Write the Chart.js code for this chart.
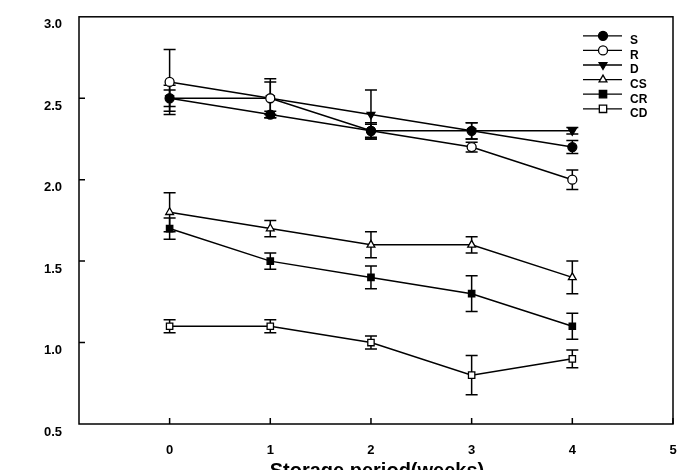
<!DOCTYPE html>
<html><head><meta charset="utf-8">
<script src="https://cdn.jsdelivr.net/npm/chart.js@4/dist/chart.umd.min.js"></script>
<style>html,body{margin:0;padding:0;background:#fff}#wrap{width:690px;height:470px}</style>
</head><body><div id="wrap"><canvas id="c" width="690" height="470"></canvas></div>
<script>
const weeks = [0, 1, 2, 3, 4];
const xTicks = [0, 1, 2, 3, 4, 5];
const yTicks = [0.5, 1.0, 1.5, 2.0, 2.5, 3.0];
const xTitle = 'Storage period(weeks)';

const S     = [2.5, 2.4, 2.3, 2.3, 2.2];
const S_err = [0.05, 0.02, 0.05, 0.05, 0.04];
const R     = [2.6, 2.5, 2.3, 2.2, 2.0];
const R_err = [0.2, 0.1, 0.04, 0.03, 0.06];
const D     = [2.5, 2.5, 2.4, 2.3, 2.3];
const D_err = [0.08, 0.12, 0.15, 0.05, 0.02];
const CS     = [1.8, 1.7, 1.6, 1.6, 1.4];
const CS_err = [0.12, 0.05, 0.08, 0.05, 0.1];
const CR     = [1.7, 1.5, 1.4, 1.3, 1.1];
const CR_err = [0.065, 0.05, 0.07, 0.11, 0.08];
const CD     = [1.1, 1.1, 1.0, 0.8, 0.9];
const CD_err = [0.04, 0.04, 0.04, 0.12, 0.055];

const FONT = '"Liberation Sans", Arial, sans-serif';

const series = [
  {label:'S',  data:S,  err:S_err,  style:'circle',   fill:'#000', rot:0},
  {label:'R',  data:R,  err:R_err,  style:'circle',   fill:'#fff', rot:0},
  {label:'D',  data:D,  err:D_err,  style:'triangle', fill:'#000', rot:180},
  {label:'CS', data:CS, err:CS_err, style:'triangle', fill:'#fff', rot:0},
  {label:'CR', data:CR, err:CR_err, style:'rect',     fill:'#000', rot:0},
  {label:'CD', data:CD, err:CD_err, style:'rect',     fill:'#fff', rot:0}
];

const datasets = series.map(s => ({
  label: s.label,
  data: weeks.map((w, i) => ({x: w, y: s.data[i]})),
  errors: s.err,
  borderColor: '#000',
  borderWidth: 1.5,
  backgroundColor: s.fill,
  pointStyle: s.style,
  pointRotation: s.rot,
  pointRadius: 4.5,
  pointBackgroundColor: s.fill,
  pointBorderColor: '#000',
  pointBorderWidth: 1.3,
  tension: 0,
  fill: false
}));

const errorBars = {
  id: 'errorBars',
  beforeDatasetsDraw(chart) {
    const {ctx, scales:{x, y}} = chart;
    ctx.save();
    ctx.strokeStyle = '#000';
    ctx.lineWidth = 1.5;
    chart.data.datasets.forEach((ds) => {
      ds.data.forEach((p, j) => {
        const e = ds.errors[j];
        const px = x.getPixelForValue(p.x);
        const yt = y.getPixelForValue(p.y + e);
        const yb = y.getPixelForValue(p.y - e);
        ctx.beginPath();
        ctx.moveTo(px, yt); ctx.lineTo(px, yb);
        ctx.moveTo(px - 6, yt); ctx.lineTo(px + 6, yt);
        ctx.moveTo(px - 6, yb); ctx.lineTo(px + 6, yb);
        ctx.stroke();
      });
    });
    ctx.restore();
  }
};

function drawMarker(ctx, style, fill, rot, cx, cy, r) {
  ctx.save();
  ctx.fillStyle = fill; ctx.strokeStyle = '#000'; ctx.lineWidth = 1.3;
  ctx.beginPath();
  if (style === 'circle') {
    ctx.arc(cx, cy, r, 0, Math.PI * 2);
  } else if (style === 'rect') {
    ctx.rect(cx - r * 0.707 - 0.5, cy - r * 0.707 - 0.5, r * 1.414 + 1, r * 1.414 + 1);
  } else {
    const a = rot * Math.PI / 180;
    for (let k = 0; k < 3; k++) {
      const t = a - Math.PI / 2 + k * 2 * Math.PI / 3;
      const px = cx + r * Math.cos(t), py = cy + r * Math.sin(t);
      if (k === 0) ctx.moveTo(px, py); else ctx.lineTo(px, py);
    }
    ctx.closePath();
  }
  ctx.fill(); ctx.stroke();
  ctx.restore();
}

const frame = {
  id: 'frame',
  afterDraw(chart) {
    const {ctx, chartArea:a, scales:{x, y}} = chart;
    ctx.save();
    ctx.strokeStyle = '#000';
    ctx.lineWidth = 1.5;
    ctx.strokeRect(a.left, a.top, a.right - a.left, a.bottom - a.top);
    ctx.beginPath();
    yTicks.forEach(v => {
      if (v === y.min || v === y.max) return;
      const py = y.getPixelForValue(v);
      ctx.moveTo(a.left, py); ctx.lineTo(a.left + 6, py);
    });
    xTicks.forEach(v => {
      const px = x.getPixelForValue(v);
      ctx.moveTo(px, a.bottom); ctx.lineTo(px, a.bottom - 6);
    });
    ctx.stroke();

    // legend
    ctx.lineWidth = 1.3;
    ctx.font = 'bold 12px ' + FONT;
    ctx.fillStyle = '#000';
    ctx.textBaseline = 'middle';
    ctx.textAlign = 'left';
    series.forEach((s, i) => {
      const ly = a.top + 19 + i * 14.6;
      const lx0 = a.right - 90, lx1 = a.right - 51, mx = a.right - 70;
      ctx.beginPath();
      ctx.moveTo(lx0, ly); ctx.lineTo(lx1, ly);
      ctx.stroke();
      drawMarker(ctx, s.style, s.fill, s.rot, mx, ly, 4.5);
      ctx.fillStyle = '#000';
      ctx.fillText(s.label, a.right - 43, ly + 5);
    });

    // x axis title
    ctx.font = 'bold 20px ' + FONT;
    ctx.textAlign = 'center';
    ctx.fillText(xTitle, (x.getPixelForValue(0) + x.getPixelForValue(4)) / 2 + 6, 471);
    ctx.restore();
  }
};

new Chart(document.getElementById('c'), {
  type: 'line',
  data: {datasets},
  options: {
    responsive: false,
    animation: false,
    devicePixelRatio: 1,
    layout: {padding: {top: 6, right: 17, left: 0, bottom: 0}},
    plugins: {legend: {display: false}, tooltip: {enabled: false}},
    scales: {
      x: {
        type: 'linear', min: -0.9, max: 5,
        afterBuildTicks: s => { s.ticks = xTicks.map(v => ({value: v})); },
        afterFit: s => { s.height = 46; },
        grid: {display: false},
        border: {display: false},
        ticks: {color: '#000', padding: 11, font: {family: FONT, size: 13, weight: 'bold'}, callback: v => String(v)}
      },
      y: {
        type: 'linear', min: 0.5, max: 3.0,
        afterBuildTicks: s => { s.ticks = yTicks.map(v => ({value: v})); },
        afterFit: s => { s.width = 79; },
        grid: {display: false},
        border: {display: false},
        ticks: {color: '#000', padding: 9, labelOffset: 8, font: {family: FONT, size: 13, weight: 'bold'}, callback: v => Number(v).toFixed(1)}
      }
    }
  },
  plugins: [errorBars, frame]
});
</script>
</body></html>
